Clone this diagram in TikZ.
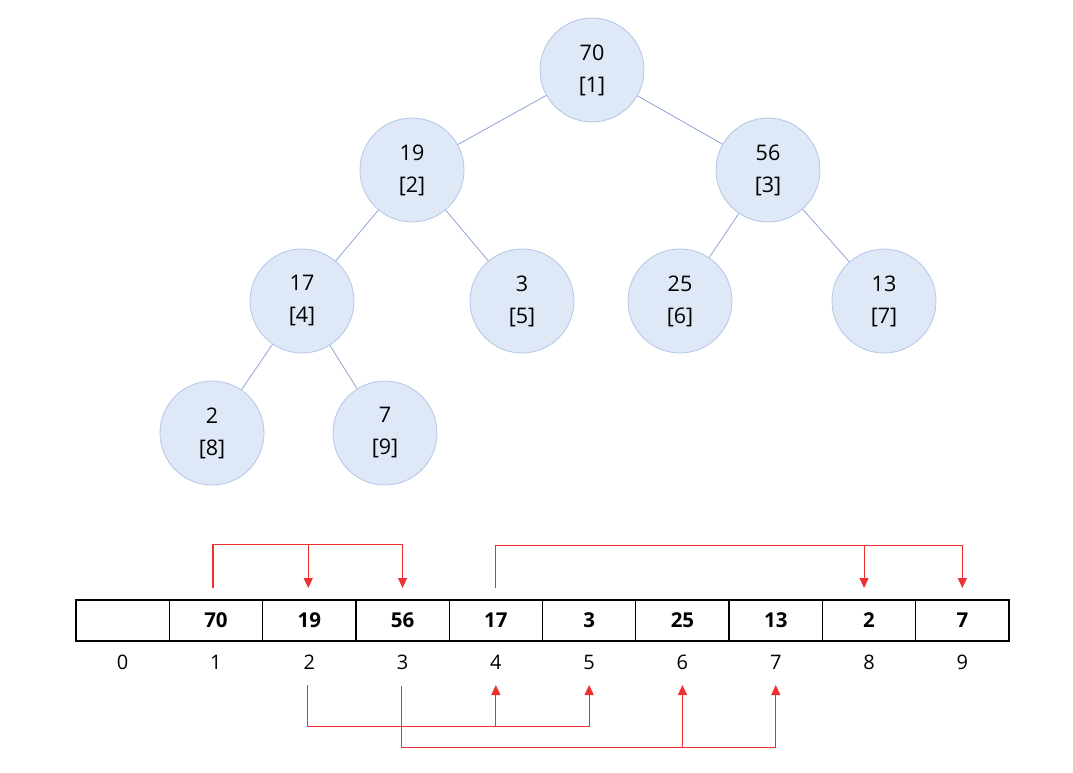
\documentclass[tikz,border=0pt]{standalone}
\usepackage{fontspec}
\setmainfont{Open Sans}
\usetikzlibrary{arrows.meta,calc}
\definecolor{nfill}{HTML}{DEE8F6}
\definecolor{ndraw}{HTML}{B4C7E7}
\definecolor{edgec}{HTML}{8FA5D3}
\definecolor{linered}{HTML}{EE3030}
\tikzset{
  hnode/.style={circle,minimum size=104pt,inner sep=0pt,fill=nfill,draw=ndraw,line width=0.8pt,align=center,font=\fontsize{21.5pt}{32pt}\selectfont},
  tedge/.style={draw=edgec,line width=0.8pt},
  cell/.style={rectangle,draw=black,line width=1.3pt,minimum width=93.3pt,minimum height=41pt,inner sep=0pt,font=\fontsize{20.5pt}{24pt}\selectfont\bfseries},
  idx/.style={font=\fontsize{20pt}{24pt}\selectfont,inner sep=0pt},
  conn/.style={draw=linered,line width=1.1pt},
  arr/.style={conn,-{Triangle[width=9pt,length=10pt]},shorten >=0pt},
}
\begin{document}
\begin{tikzpicture}[x=1pt,y=-1pt]
\useasboundingbox (0,0) rectangle (1073,772);
% tree
\node[hnode] (n1) at (592,70) {70\\{}[1]};
\node[hnode] (n2) at (412,170) {19\\{}[2]};
\node[hnode] (n3) at (768,170) {56\\{}[3]};
\node[hnode] (n4) at (302,301) {17\\{}[4]};
\node[hnode] (n5) at (522,301) {3\\{}[5]};
\node[hnode] (n6) at (680,301) {25\\{}[6]};
\node[hnode] (n7) at (884,301) {13\\{}[7]};
\node[hnode] (n8) at (212,433) {2\\{}[8]};
\node[hnode] (n9) at (385,433) {7\\{}[9]};
\draw[tedge] (n1) -- (n2);
\draw[tedge] (n1) -- (n3);
\draw[tedge] (n2) -- (n4);
\draw[tedge] (n2) -- (n5);
\draw[tedge] (n3) -- (n6);
\draw[tedge] (n3) -- (n7);
\draw[tedge] (n4) -- (n8);
\draw[tedge] (n4) -- (n9);
% array
\foreach \i/\v in {0/,1/70,2/19,3/56,4/17,5/3,6/25,7/13,8/2,9/7}{
  \node[cell] (c\i) at ({122.65+93.3*\i},620.5) {\v};
  \node[idx] (i\i) at ({122.65+93.3*\i},662) {\i};
}
% top connectors
\draw[arr] ([xshift=-3pt]c1.north |- 0,588) -- ([xshift=-3pt]c1.north |- 0,544.5) -| (c3.north |- 0,588);
\draw[arr] ([xshift=-1pt]c2.north |- 0,544.5) -- ([xshift=-1pt]c2.north |- 0,588);
\draw[arr] (c4.north |- 0,588) -- (c4.north |- 0,545.5) -| (c9.north |- 0,588);
\draw[arr] ([xshift=-5pt]c8.north |- 0,545.5) -- ([xshift=-5pt]c8.north |- 0,588);
% bottom connectors
\draw[arr] ([xshift=-2pt]i2.south |- 0,685) -- ([xshift=-2pt]i2.south |- 0,726.5) -| (i5.south |- 0,685);
\draw[arr] (i4.south |- 0,726.5) -- (i4.south |- 0,685);
\draw[arr] ([xshift=-1pt]i3.south |- 0,686) -- ([xshift=-1pt]i3.south |- 0,747.5) -| (i7.south |- 0,685);
\draw[arr] (i6.south |- 0,747.5) -- (i6.south |- 0,685);
\end{tikzpicture}
\end{document}
